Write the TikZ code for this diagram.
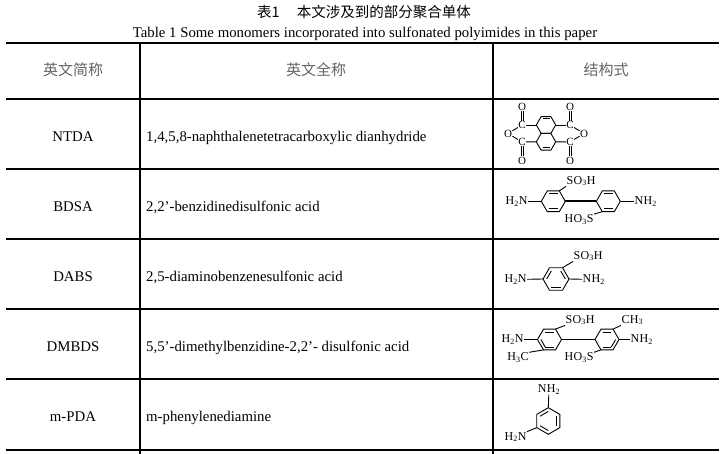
\documentclass[tikz,border=0pt]{standalone}
\usepackage{fontspec}
\setmainfont{Liberation Serif}
\newfontfamily\cjk{Noto Sans CJK SC}
\newfontfamily\chemfont[LetterSpace=4]{Liberation Serif}
\usetikzlibrary{calc}
\definecolor{headgray}{RGB}{100,100,100}
\newcommand\hexring[5]{%
  \coordinate (#1c) at (#2,#3);
  \foreach \k in {1,...,6}{\coordinate (#1\k) at ($(#1c)+({#5+60*(\k-1)}:#4)$);}
  \draw[bond] (#11)--(#12)--(#13)--(#14)--(#15)--(#16)--cycle;}
\newcommand\dbl[3]{\draw[bond] ($(#1c)!0.72!(#1#2)$) -- ($(#1c)!0.72!(#1#3)$);}
\newcommand\cod[2]{% carbonyl double bond, vertical
  \draw[bond] ([xshift=-1pt]#1) -- ([xshift=-1pt]#2);
  \draw[bond] ([xshift=1pt]#1) -- ([xshift=1pt]#2);}
\newcommand\sub[1]{\textsubscript{#1}}
\begin{document}
\begin{tikzpicture}[x=1pt,y=-1pt,
  rule/.style={line width=2pt},
  thickrule/.style={line width=2.8pt},
  cjkhead/.style={font=\cjk\fontsize{15}{15}\selectfont, text=headgray, anchor=base, inner sep=0},
  entxt/.style={font=\fontsize{14.8}{16}\selectfont, anchor=base, inner sep=0},
  bond/.style={line width=0.9pt},
  bibond/.style={line width=1.9pt},
  atom/.style={font=\chemfont\fontsize{11}{10}\selectfont, inner sep=0.3pt},
  grp/.style={font=\chemfont\fontsize{12}{12}\selectfont, inner sep=0.3pt},
]
\useasboundingbox (0,0) rectangle (727,454);
\fill[white] (0,0) rectangle (727,454);
% titles
\node[font=\cjk\fontsize{14.5}{15}\selectfont, anchor=base, inner sep=0] (title) at (364,17.5) {表1\hspace{1.2em}本文涉及到的部分聚合单体};
\node[entxt] (caption) at (365,37.5) {Table 1 Some monomers incorporated into sulfonated polyimides in this paper};
% rules
\draw[thickrule] (6,43) -- (719,43);
\draw[rule] (6,99) -- (719,99);
\draw[rule] (6,169) -- (719,169);
\draw[rule] (6,239) -- (719,239);
\draw[thickrule] (6,309) -- (719,309);
\draw[rule] (6,379) -- (719,379);
\draw[rule] (6,450) -- (719,450);
\draw[rule] (140,43) -- (140,454);
\draw[rule] (493,43) -- (493,454);
% header
\node[cjkhead] (h1) at (73,75.7) {英文简称};
\node[cjkhead] (h2) at (316,75.7) {英文全称};
\node[cjkhead] (h3) at (606,75.7) {结构式};
% rows
\node[entxt] (a1) at (73,141.5) {NTDA};
\node[entxt] (a2) at (73,211.5) {BDSA};
\node[entxt] (a3) at (73,281) {DABS};
\node[entxt] (a4) at (73,351) {DMBDS};
\node[entxt] (a5) at (73,421) {m-PDA};
\node[entxt, anchor=base west] (b1) at (146,141.5) {1,4,5,8-naphthalenetetracarboxylic dianhydride};
\node[entxt, anchor=base west] (b2) at (146,211.5) {2,2’-benzidinedisulfonic acid};
\node[entxt, anchor=base west] (b3) at (146,281) {2,5-diaminobenzenesulfonic acid};
\node[entxt, anchor=base west] (b4) at (146,351) {5,5’-dimethylbenzidine-2,2’- disulfonic acid};
\node[entxt, anchor=base west] (b5) at (146,421) {m-phenylenediamine};
% ---------- NTDA ----------
\hexring{P}{546}{125}{9.7}{0}
\hexring{Q}{546}{141.8}{9.7}{0}
\dbl{P}{5}{6}
\dbl{Q}{2}{3}
\node[atom] (nC1) at (522,125) {C};
\node[atom] (nC2) at (522,142) {C};
\node[atom] (nC3) at (570,125) {C};
\node[atom] (nC4) at (570,142) {C};
\node[atom] (nO1) at (522,106.5) {O};
\node[atom] (nO2) at (522,160.5) {O};
\node[atom] (nO3) at (570,106.5) {O};
\node[atom] (nO4) at (570,160.5) {O};
\node[atom] (nO5) at (508,133.5) {O};
\node[atom] (nO6) at (584,133.5) {O};
\draw[bond] (P4) -- (nC1);
\draw[bond] (Q4) -- (nC2);
\draw[bond] (P1) -- (nC3);
\draw[bond] (Q1) -- (nC4);
\cod{nO1.south}{nC1.north}
\cod{nC2.south}{nO2.north}
\cod{nO3.south}{nC3.north}
\cod{nC4.south}{nO4.north}
\draw[bond] (nC1) -- (nO5) -- (nC2);
\draw[bond] (nC3) -- (nO6) -- (nC4);
% ---------- BDSA ----------
\hexring{A}{553.3}{201.3}{12}{0}
\hexring{B}{608.3}{201.3}{12}{0}
\dbl{A}{5}{6}\dbl{A}{2}{3}
\dbl{B}{5}{6}\dbl{B}{2}{3}
\draw[bibond] (A1) -- (B4);
\node[grp, anchor=east] (bN1) at (528,201.3) {H\sub{2}N};
\node[grp, anchor=west] (bN2) at (634,201.3) {NH\sub{2}};
\draw[bond] (bN1) -- (A4);
\draw[bond] (B1) -- (bN2);
\node[grp, anchor=west] (bS1) at (566,181) {SO\sub{3}H};
\node[grp, anchor=east] (bS2) at (594,219.5) {HO\sub{3}S};
\draw[bond] (A6) -- (bS1.south west);
\draw[bond] (B3) -- (bS2.north east);
% ---------- DABS ----------
\hexring{D}{556}{279}{13}{0}
\dbl{D}{2}{3}\dbl{D}{4}{5}\dbl{D}{6}{1}
\node[grp, anchor=east] (dN1) at (527,279.5) {H\sub{2}N};
\node[grp, anchor=west] (dN2) at (582,279.5) {NH\sub{2}};
\draw[bond] (dN1) -- (D4);
\draw[bond] (D1) -- (dN2);
\node[grp, anchor=west] (dS1) at (573,256) {SO\sub{3}H};
\draw[bond] (D6) -- (dS1.south west);
% ---------- DMBDS ----------
\hexring{E}{549.5}{339.5}{12}{0}
\hexring{F}{607}{339.5}{12}{0}
\dbl{E}{3}{4}\dbl{E}{2}{3}\dbl{E}{5}{6}
\dbl{F}{5}{6}\dbl{F}{1}{2}\dbl{F}{2}{3}
\draw[bibond] (E1) -- (F4);
\node[grp, anchor=east] (mN1) at (524,339.5) {H\sub{2}N};
\node[grp, anchor=west] (mN2) at (630,339.5) {NH\sub{2}};
\draw[bond] (mN1) -- (E4);
\draw[bond] (F1) -- (mN2);
\node[grp, anchor=west] (mS1) at (565,320) {SO\sub{3}H};
\draw[bond] (E6) -- (mS1.south west);
\node[grp, anchor=east] (mC1) at (529,357.7) {H\sub{3}C};
\draw[bond] (E3) -- (mC1.north east);
\node[grp, anchor=west] (mC2) at (621,320) {CH\sub{3}};
\draw[bond] (F6) -- (mC2.south west);
\node[grp, anchor=east] (mS2) at (594,357.7) {HO\sub{3}S};
\draw[bond] (F3) -- (mS2.north east);
% ---------- m-PDA ----------
\hexring{G}{548.3}{421}{13.3}{30}
\dbl{G}{6}{1}\dbl{G}{2}{3}\dbl{G}{4}{5}
\node[grp] (pN1) at (549,389.3) {NH\sub{2}};
\node[grp, anchor=east] (pN2) at (527,437) {H\sub{2}N};
\draw[bond] (pN1) -- (G5);
\draw[bond] (G3) -- (pN2.north east);
\end{tikzpicture}
\end{document}
